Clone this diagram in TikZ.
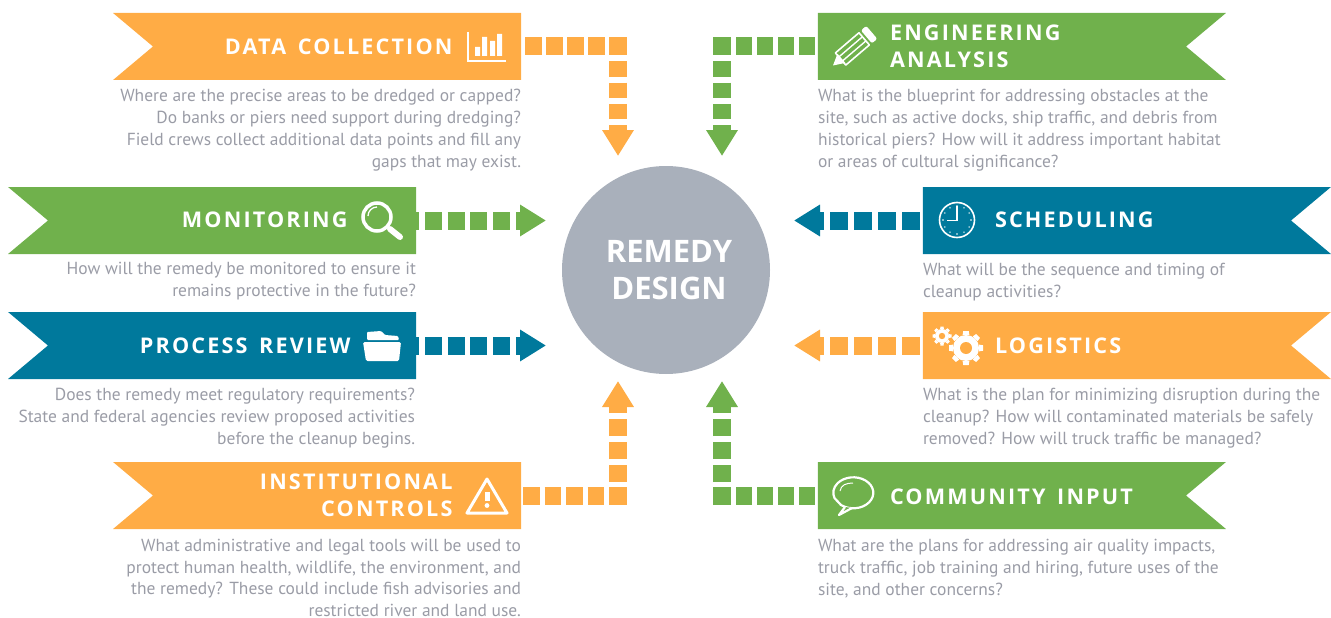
\documentclass[tikz,border=0pt]{standalone}
\usepackage{fontspec}
\setmainfont{PT Sans}
\newfontfamily\ttlfont[LetterSpace=10,WordSpace=1.5]{Open Sans}
\usetikzlibrary{arrows.meta,shapes.symbols}
\definecolor{orng}{HTML}{FFAC45}
\definecolor{grn}{HTML}{70B14C}
\definecolor{teal2}{HTML}{00799C}
\definecolor{circ}{HTML}{A9B0BB}
\definecolor{txt}{HTML}{9A9CA6}
\tikzset{
  banner/.style={signal,signal to=nowhere,signal pointer angle=80,minimum width=408pt,minimum height=67pt,inner sep=0pt,outer sep=0pt,draw=none},
  ttl/.style={text=white,font=\ttlfont\bfseries\fontsize{21.6}{27}\selectfont,inner sep=0pt,outer sep=0pt},
  bodyr/.style={text=txt,font=\fontsize{17.45}{21.8}\selectfont,align=right,anchor=north east,inner sep=0pt,outer sep=0pt},
  bodyl/.style={text=txt,font=\fontsize{17.45}{21.8}\selectfont,align=left,anchor=north west,inner sep=0pt,outer sep=0pt},
  dsh/.style={line width=18pt},
  dshtip/.style={line width=18pt,-{Triangle[length=26pt,width=30pt]}},
  vdown/.style={dash pattern=on 18pt off 6pt on 15.5pt off 5.7pt on 15.5pt off 5.7pt on 15.5pt off 5.7pt on 15.5pt off 5.7pt},
  vup/.style={dash pattern=on 18pt off 5pt on 17.5pt off 5.5pt on 17.5pt off 5.5pt on 17.5pt off 5.5pt on 17.5pt off 5.5pt},
}
\begin{document}
\begin{tikzpicture}[x=1pt,y=-1pt]
\useasboundingbox (0,0) rectangle (1331,618);
% hub
\node[circle,fill=circ,minimum size=208pt,inner sep=0pt,outer sep=0pt] (hub) at (666,270) {};
\node[text=white,inner sep=0pt,font=\fontspec{Open Sans}\bfseries\fontsize{31}{37}\selectfont] (rem) at (669,251) {REMEDY};
\node[text=white,inner sep=0pt,font=\fontspec{Open Sans}\bfseries\fontsize{31}{37}\selectfont] (des) at (669,288) {DESIGN};
% banners
\node[banner,fill=orng,signal from=west] (dc) at (337,46.5) {};
\node[banner,fill=grn,signal from=west] (mon) at (232,220.5) {};
\node[banner,fill=teal2,signal from=west] (pr) at (232,345.5) {};
\node[banner,fill=orng,signal from=west] (ic) at (337,495.5) {};
\node[banner,fill=grn,signal from=east] (ea) at (1002,46.5) {};
\node[banner,fill=teal2,signal from=east] (sch) at (1107,220.5) {};
\node[banner,fill=orng,signal from=east] (log) at (1107,345.5) {};
\node[banner,fill=grn,signal from=east] (ci) at (1002,495.5) {};
% titles
\node[ttl,anchor=east] (t1) at (452.5,46.5) {DATA COLLECTION};
\node[ttl,anchor=east] (t2) at (347.5,219.5) {MONITORING};
\node[ttl,anchor=east] (t3) at (350.5,345.5) {PROCESS REVIEW};
\node[ttl,anchor=east] (t4a) at (452.5,481.5) {INSTITUTIONAL};
\node[ttl,anchor=east] (t4b) at (452.5,508.5) {CONTROLS};
\node[ttl,anchor=west] (t5a) at (890,32.5) {ENGINEERING};
\node[ttl,anchor=west] (t5b) at (890,59.5) {ANALYSIS};
\node[ttl,anchor=west] (t6) at (995,219.5) {SCHEDULING};
\node[ttl,anchor=west] (t7) at (995,345.5) {LOGISTICS};
\node[ttl,anchor=west] (t8) at (890,496.5) {COMMUNITY INPUT};
% body
\node[bodyr] (b1) at (521,89.5) {Where are the precise areas to be dredged or capped?\\Do banks or piers need support during dredging?\\Field crews collect additional data points and fill any\\gaps that may exist.};
\node[bodyr] (b2) at (416,262.5) {How will the remedy be monitored to ensure it\\remains protective in the future?};
\node[bodyr] (b3) at (415,388.5) {Does the remedy meet regulatory requirements?\\State and federal agencies review proposed activities\\before the cleanup begins.};
\node[bodyr] (b4) at (521,539) {What administrative and legal tools will be used to\\protect human health, wildlife, the environment, and\\the remedy? These could include fish advisories and\\restricted river and land use.};
\node[bodyl] (b5) at (818,89.5) {What is the blueprint for addressing obstacles at the\\site, such as active docks, ship traffic, and debris from\\historical piers? How will it address important habitat\\or areas of cultural significance?};
\node[bodyl] (b6) at (923,263.5) {What will be the sequence and timing of\\cleanup activities?};
\node[bodyl] (b7) at (923,388.5) {What is the plan for minimizing disruption during the\\cleanup? How will contaminated materials be safely\\removed? How will truck traffic be managed?};
\node[bodyl] (b8) at (818,539.5) {What are the plans for addressing air quality impacts,\\truck traffic, job training and hiring, future uses of the\\site, and other concerns?};
% connector waypoints
\coordinate (c1a) at (618,46.5); \coordinate (c1b) at (618,37.5); \coordinate (e1) at (618,156);
\coordinate (c5a) at (722,46.5); \coordinate (c5b) at (722,37.5); \coordinate (e5) at (722,156);
\coordinate (e2) at (546,220.5); \coordinate (e3) at (546,345.5);
\coordinate (e6) at (794,220.5); \coordinate (e7) at (794,345.5);
\coordinate (c4a) at (618,495.5); \coordinate (c4b) at (618,505); \coordinate (e4) at (618,381);
\coordinate (c8a) at (722,495.5); \coordinate (c8b) at (722,505); \coordinate (e8) at (722,381);
% connectors
\draw[dsh,orng,dash pattern=on 17pt off 4pt,dash phase=17pt] (dc.east) -- (c1a);
\draw[dshtip,orng,vdown] (c1b) -- (e1);
\draw[dsh,grn,dash pattern=on 16pt off 5pt,dash phase=18pt] (ea.west) -- (c5a);
\draw[dshtip,grn,vdown] (c5b) -- (e5);
\draw[dshtip,grn,dash pattern=on 17pt off 5.7pt,dash phase=13.7pt] (mon.east) -- (e2);
\draw[dshtip,teal2,dash pattern=on 17pt off 5.7pt,dash phase=13.7pt] (pr.east) -- (e3);
\draw[dshtip,teal2,dash pattern=on 18pt off 6pt,dash phase=21pt] (sch.west) -- (e6);
\draw[dshtip,orng,dash pattern=on 18pt off 6pt,dash phase=21pt] (log.west) -- (e7);
\draw[dsh,orng,dash pattern=on 16.5pt off 5pt,dash phase=19.5pt] (ic.east) -- (c4a);
\draw[dshtip,orng,vup] (c4b) -- (e4);
\draw[dsh,grn,dash pattern=on 16pt off 5pt,dash phase=18pt] (ci.west) -- (c8a);
\draw[dshtip,grn,vup] (c8b) -- (e8);
% icon: bar chart
\draw[white,line width=1.5pt] (468,32) -- (468,61) -- (506,61);
\fill[white] (475,47) rectangle (480,56) (482,37) rectangle (487,56) (490,41) rectangle (495,56) (497,34) rectangle (502,56);
% icon: magnifier
\draw[white,line width=3.5pt] (377,217) circle (14);
\draw[white,line width=1.3pt] (368,216) arc (180:270:9);
\draw[white,line width=6pt,line cap=round] (390,229) -- (400,237);
% icon: folder
\fill[white,rounded corners=1pt] (367,340) -- (367,332) -- (381,331) -- (385,335) -- (398,336) -- (399,340) -- cycle;
\fill[white,rounded corners=1.5pt] (363,342) -- (401,342) -- (399,361) -- (366,361) -- cycle;
% icon: warning
\draw[white,line width=3pt,line join=round] (487,479) -- (507,513) -- (467,513) -- cycle;
\fill[white] (484.5,492) rectangle (489.5,501);
\fill[white] (487,505.5) circle (2.4);
% icon: pencil
\begin{scope}[shift={(833,65.5)},x={(0.76pt,0.65pt)},y={(0.65pt,-0.76pt)}]
\fill[white] (0,0) -- (11,-6) -- (11,6) -- cycle;
\draw[white,line width=1.6pt,line join=round] (10,-8) -- (41,-8) -- (41,8) -- (10,8) -- cycle;
\draw[white,line width=1.4pt] (10,-2.7) -- (41,-2.7) (10,2.7) -- (41,2.7);
\fill[white,rounded corners=2pt] (44,-8.5) -- (51,-8.5) -- (51,8.5) -- (44,8.5) -- cycle;
\end{scope}
% icon: clock
\draw[white,line width=1.6pt] (957,220) circle (17.5);
\draw[white,line width=1.6pt] (957,206) -- (957,220.5) -- (947,220.5);
\foreach \a in {0,30,...,330} {\fill[white] ({957+14*cos(\a)},{220+14*sin(\a)}) circle (0.8);}
% icon: gears
\foreach \cx/\cy/\ro/\ri/\rh in {966/348/17/13/6,942/336/9.5/7/3.2}{
  \fill[white] (\cx,\cy) circle (\ri);
  \foreach \a in {0,45,...,315}{
    \fill[white,rotate around={\a:(\cx,\cy)}] ({\cx-\ro*0.2},{\cy-\ri}) -- ({\cx-\ro*0.16},{\cy-\ro}) -- ({\cx+\ro*0.16},{\cy-\ro}) -- ({\cx+\ro*0.2},{\cy-\ri}) -- cycle;
  }
  \fill[orng] (\cx,\cy) circle (\rh);
}
% icon: speech bubble
\draw[white,line width=2.2pt,line join=round] (841,505) arc (128:-200:20 and 15.5) -- cycle;
\draw[white,line width=2.2pt,line join=round,fill=grn] (845,507) -- (839,515) -- (852,508);
\draw[white,line width=1pt] (840,491) .. controls (841,485) and (846,483) .. (853,483);
\end{tikzpicture}
\end{document}
